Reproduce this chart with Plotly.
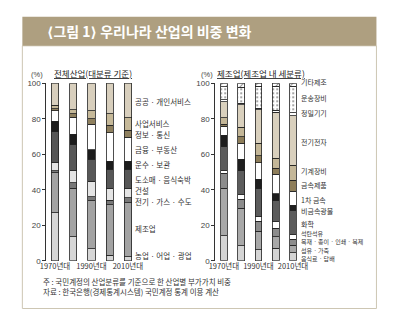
import plotly.graph_objects as go

W, H = 396, 332
decades = ["1970년대", "1980년대", "1990년대", "2000년대", "2010년대"]
xpos = [0, 1, 2, 3, 4]
tick_idx = [0, 2, 4]

# ---- left chart: 전체산업 (bottom -> top)
left_cats = ["농업 · 어업 · 광업", "제조업", "전기 · 가스 · 수도", "건설", "도소매 · 음식숙박",
             "운수 · 보관", "금융 · 부동산", "정보 · 통신", "사업서비스", "공공 · 개인서비스"]
agri = [27.0, 13.6, 6.8, 3.1, 2.2]
manu = [22.5, 27.4, 27.1, 28.4, 30.6]
elec = [1.2, 3.0, 2.2, 2.7, 2.7]
cons = [4.6, 6.7, 8.6, 6.8, 5.2]
trade = [17.4, 14.7, 12.4, 10.6, 10.9]
trans = [5.9, 6.0, 5.5, 4.6, 4.6]
fin = [6.0, 9.5, 14.3, 16.0, 13.4]
info = [1.2, 2.0, 3.1, 4.2, 4.0]
biz = [1.9, 2.2, 4.6, 6.4, 7.0]
public = [12.3, 14.9, 15.4, 17.2, 19.4]
left_vals = [agri, manu, elec, cons, trade, trans, fin, info, biz, public]
left_colors = ["#d6d6d6", "#a3a3a3", "#787878", "#e4e4e4", "#575757",
               "#1c1c1c", "#ffffff", "#8f805e", "#c6b999", "#d8cfbd"]

# ---- right chart: 제조업 (bottom -> top)
right_cats = ["음식료 · 담배", "섬유 · 가죽", "목재 · 종이 · 인쇄 · 복제", "석탄석유", "화학",
              "비금속광물", "1차 금속", "금속제품", "기계장비", "전기전자", "정밀기기",
              "운송장비", "기타제조"]
food = [14.1, 8.6, 6.3, 7.2, 4.5]
textile = [26.8, 21.0, 10.5, 6.5, 4.3]
wood = [8.3, 5.2, 5.5, 4.8, 3.5]
coal = [1.6, 2.3, 2.8, 3.5, 2.3]
chem = [13.6, 13.6, 15.6, 11.8, 13.9]
nonmet = [6.4, 6.4, 5.3, 4.1, 2.7]
metal1 = [5.0, 9.1, 9.2, 11.0, 8.0]
metalp = [1.2, 3.7, 4.0, 3.2, 6.1]
mach = [3.7, 5.4, 6.9, 5.8, 8.6]
electr = [8.8, 12.7, 18.9, 25.9, 27.9]
precis = [1.2, 0.9, 1.0, 1.0, 1.5]
transeq = [7.3, 8.9, 12.3, 13.4, 14.9]
other = [2.0, 2.2, 1.7, 1.8, 1.8]
right_vals = [food, textile, wood, coal, chem, nonmet, metal1, metalp, mach,
              electr, precis, transeq, other]
right_colors = ["#d4d4d4", "#a8a8a8", "#8c8c8c", "#ffffff", "#5c5c5c", "#1e1e1e",
                "#ffffff", "#8e7e5a", "#c4b798", "#d9d0bd", "#ffffff", "#ffffff", "#ffffff"]
right_patterns = [""] * 11 + [".", "/"]

yticks = [0, 20, 40, 60, 80, 100]

# label positions (px from top) and sizes for category labels
left_label_y = [259, 231, 203, 192, 180, 165, 149.5, 134, 122.5, 100]
right_label_y = [261.5, 253, 244.5, 236, 226, 212.5, 201.5, 186, 171.5, 141.5, 112, 97, 80]
right_label_size = [6, 6, 6, 6] + [7] * 9

KR = "Noto Sans CJK KR"


def px(x):
    return x / W


def py(y):
    return 1 - y / H


fig = go.Figure()
for name, vals, col in zip(left_cats, left_vals, left_colors):
    fig.add_trace(go.Bar(x=xpos, y=vals, name=name, xaxis="x", yaxis="y",
                         width=0.4, marker=dict(color=col, line=dict(color="#222", width=0.8))))
for name, vals, col, pat in zip(right_cats, right_vals, right_colors, right_patterns):
    mk = dict(color=col, line=dict(color="#222", width=0.8))
    if pat:
        mk["pattern"] = dict(shape=pat, fgcolor="#111", bgcolor="white",
                             size=4 if pat == "." else 5, solidity=0.2)
    fig.add_trace(go.Bar(x=xpos, y=vals, name=name, xaxis="x2", yaxis="y2",
                         width=0.39, marker=mk))

ydom = [py(264), py(81.5)]
axis_y = dict(range=[0, 100], tickvals=yticks, ticks="outside", ticklen=3, tickcolor="#333",
              showline=True, linecolor="#333", linewidth=1, showgrid=False, zeroline=False,
              tickfont=dict(family="Liberation Sans", size=8, color="#444"), domain=ydom)
axis_x = dict(showgrid=False, zeroline=False, showline=False, ticks="", tickangle=0,
              tickvals=tick_idx, ticktext=[decades[i] for i in tick_idx],
              tickfont=dict(family=KR, size=7.5, color="#333"))

fig.update_layout(
    width=W, height=H, margin=dict(l=0, r=0, t=0, b=0),
    paper_bgcolor="white", plot_bgcolor="rgba(0,0,0,0)",
    barmode="stack", showlegend=False,
    xaxis=dict(axis_x, domain=[px(41), px(135)], range=[-9 / 19, 85 / 19], anchor="y"),
    yaxis=dict(axis_y, anchor="x"),
    xaxis2=dict(axis_x, domain=[px(217), px(305)], range=[-0.5, 79 / 18], anchor="y2"),
    yaxis2=dict(axis_y, anchor="x2"),
)

shapes = [
    dict(type="rect", xref="paper", yref="paper", x0=px(16), x1=px(385), y0=py(313), y1=py(43),
         line=dict(color="#cdc6b3", width=1), fillcolor="rgba(0,0,0,0)"),
    dict(type="rect", xref="paper", yref="paper", x0=px(16), x1=px(385), y0=py(43), y1=py(13),
         line=dict(width=0), fillcolor="#ae9f80"),
]
fig.update_layout(shapes=shapes)

BR = "<span style='font-family:DejaVu Sans'>%s</span>"
title = "<b>" + BR % "⟨" + "그림 1" + BR % "⟩" + " 우리나라 산업의 비중 변화</b>"

ann = []
ann.append(dict(text=title, x=px(40), y=py(28),
                xanchor="left", yanchor="middle", font=dict(family=KR, size=14, color="white")))
ann.append(dict(text="<u>전체산업(대분류 기준)</u>", x=px(89.5), y=py(70.5), xanchor="center",
                yanchor="middle", font=dict(family=KR, size=8.5, color="#222")))
ann.append(dict(text="<u>제조업(제조업 내 세분류)</u>", x=px(264.5), y=py(70.5), xanchor="center",
                yanchor="middle", font=dict(family=KR, size=8.5, color="#222")))
for xc in (31, 208):
    ann.append(dict(text="(%)", x=px(xc), y=py(72.5), xanchor="center", yanchor="middle",
                    font=dict(family="Liberation Sans", size=7.5, color="#444")))
for name, yy in zip(left_cats, left_label_y):
    ann.append(dict(text=name, x=px(131.5), y=py(yy), xanchor="left", yanchor="middle",
                    font=dict(family=KR, size=7.5, color="#333")))
for name, yy, fs in zip(right_cats, right_label_y, right_label_size):
    ann.append(dict(text=name, x=px(304), y=py(yy), xanchor="left", yanchor="middle",
                    font=dict(family=KR, size=fs, color="#333")))
ann.append(dict(text="주 : 국민계정의 산업분류를 기준으로 한 산업별 부가가치 비중", x=px(35.5), y=py(285.3),
                xanchor="left", yanchor="middle", font=dict(family=KR, size=7.5, color="#333")))
ann.append(dict(text="자료 : 한국은행(경제통계시스템) 국민계정 통계 이용 계산", x=px(35.5), y=py(296),
                xanchor="left", yanchor="middle", font=dict(family=KR, size=7.5, color="#333")))
for a in ann:
    a.update(xref="paper", yref="paper", showarrow=False)
fig.update_layout(annotations=ann)

fig.write_html("out.html")
